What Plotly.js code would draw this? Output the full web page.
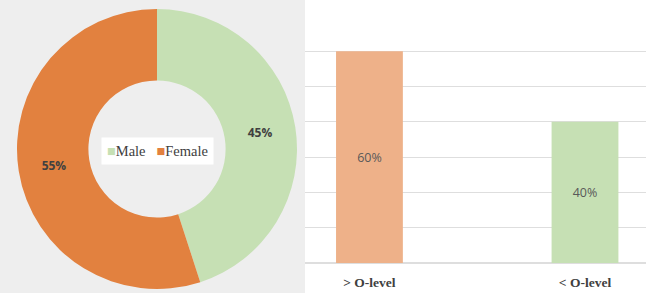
<!DOCTYPE html>
<html>
<head>
<meta charset="utf-8">
<script src="https://cdn.plot.ly/plotly-3.0.1.min.js"></script>
<style>html,body{margin:0;padding:0;background:#fff;}#chart{width:646px;height:295px;}</style>
</head>
<body>
<div id="chart"></div>
<script>
var genderLabels = ['Male', 'Female'];
var genderValues = [45, 55];
var genderColors = ['#c6e0b4', '#e2813f'];

var eduCategories = ['> O-level', '< O-level'];
var eduValues = [60, 40];
var eduColors = ['#eeb189', '#c6e0b4'];

var pie = {
  type: 'pie',
  labels: genderLabels,
  values: genderValues,
  hole: 0.49,
  sort: false,
  direction: 'clockwise',
  rotation: 0,
  marker: {colors: genderColors, line: {width: 0}},
  textinfo: 'percent',
  texttemplate: '%{percent:.0%}',
  textposition: 'inside',
  insidetextorientation: 'horizontal',
  textfont: {family: 'Open Sans', size: 12, color: '#404040', weight: 'bold'},
  domain: {x: [17/646, 297/646], y: [6/295, 286/295]},
  hoverinfo: 'none',
  showlegend: false
};

var bar = {
  type: 'bar',
  x: eduCategories,
  y: eduValues,
  width: 0.31,
  marker: {color: eduColors},
  text: eduValues.map(function(v){return v + '%';}),
  textposition: 'inside',
  insidetextanchor: 'middle',
  textfont: {family: 'Open Sans', size: 12.5, color: '#595959'},
  xaxis: 'x', yaxis: 'y',
  showlegend: false,
  hoverinfo: 'none'
};

var legendText = genderLabels.map(function(l, i){
  return '<span style="color:' + genderColors[i] + '">■</span>' + l;
}).join('&nbsp;&nbsp;&nbsp;');

var layout = {
  width: 646, height: 295,
  margin: {l: 0, r: 0, t: 0, b: 0},
  paper_bgcolor: '#ffffff',
  plot_bgcolor: 'rgba(0,0,0,0)',
  xaxis: {
    domain: [305/646, 1],
    type: 'category',
    range: [-0.299, 1.283],
    showgrid: false, showline: false, zeroline: false,
    ticks: '',
    ticklabelstandoff: 9,
    tickfont: {family: 'Liberation Serif', size: 13.5, color: '#404040', weight: 'bold'}
  },
  yaxis: {
    domain: [32/295, 279/295],
    range: [0, 70],
    dtick: 10,
    showticklabels: false,
    showgrid: true, gridcolor: '#dedede', gridwidth: 1.2,
    zeroline: true, zerolinecolor: '#dedede', zerolinewidth: 1.2,
    showline: false
  },
  annotations: [{
    xref: 'paper', yref: 'paper',
    x: 157/646, y: (295-151)/295, xanchor: 'center', yanchor: 'middle',
    text: legendText, showarrow: false,
    bgcolor: '#ffffff', borderpad: 5,
    font: {family: 'Liberation Serif', size: 14.5, color: '#404040'}
  }],
  shapes: [{
    type: 'rect', xref: 'paper', yref: 'paper',
    x0: 0, x1: 305/646, y0: 2/295, y1: 1,
    fillcolor: '#eeeeee', line: {width: 0}, layer: 'below'
  }]
};

Plotly.newPlot('chart', [pie, bar], layout, {displayModeBar: false, staticPlot: true});
</script>
</body>
</html>
